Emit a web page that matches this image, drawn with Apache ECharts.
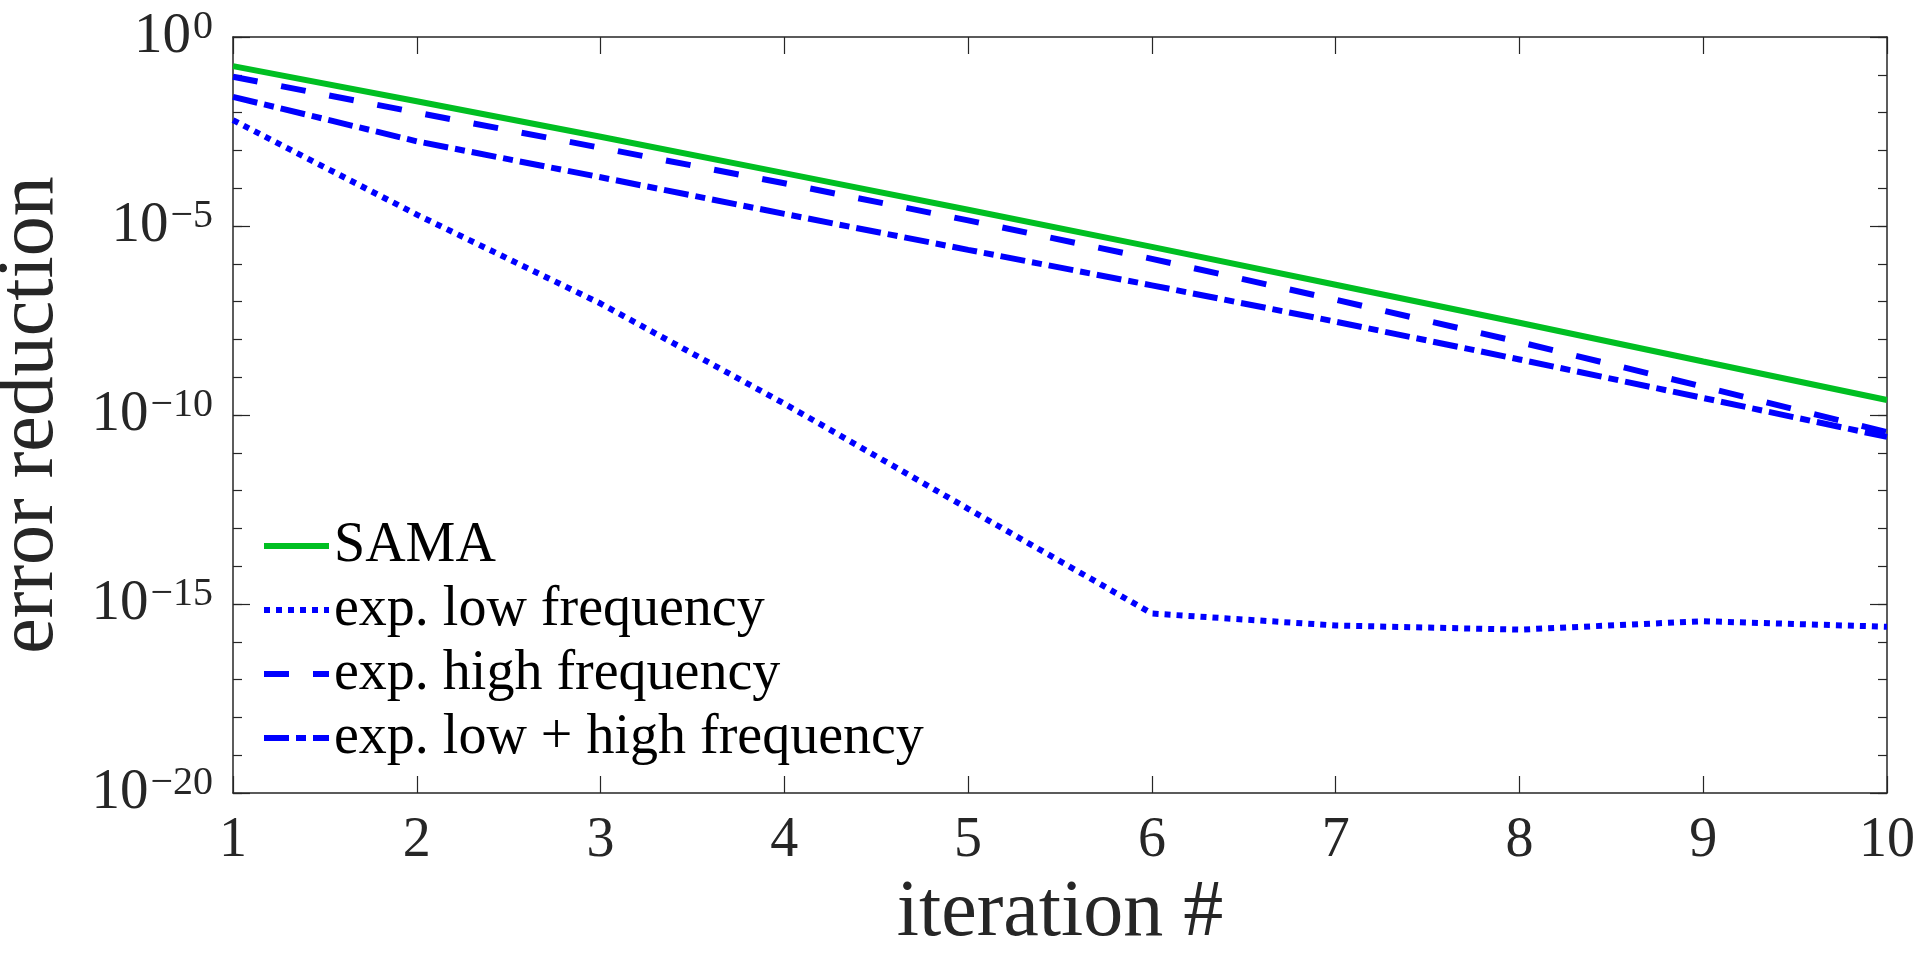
<!DOCTYPE html>
<html>
<head>
<meta charset="utf-8">
<script src="https://cdn.jsdelivr.net/npm/echarts@6/dist/echarts.min.js"></script>
<style>
  html, body { margin: 0; padding: 0; background: #fff; }
  #chart { width: 1919px; height: 959px; }
</style>
</head>
<body>
<div id="chart"></div>
<script>
// iterations 1..10
const iterations = [1, 2, 3, 4, 5, 6, 7, 8, 9, 10]
const sama = [1.7e-1, 2.0e-2, 2.3e-3, 2.5e-4, 2.7e-5, 2.8e-6, 2.8e-7, 2.75e-8, 2.6e-9, 2.5e-10]
const lowFreq = [6.3e-3, 2.0e-5, 8.9e-8, 2.0e-10, 3.3e-13, 5.6e-16, 2.7e-16, 2.1e-16, 3.5e-16, 2.5e-16]
const highFreq = [8.9e-2, 1.0e-2, 1.17e-3, 1.35e-4, 1.41e-5, 1.35e-6, 1.12e-7, 8.5e-9, 5.6e-10, 3.5e-11]
const lowHighFreq = [2.6e-2, 1.74e-3, 1.95e-4, 2.09e-5, 2.34e-6, 2.69e-7, 2.95e-8, 2.95e-9, 2.82e-10, 2.63e-11]
const seriesNames = ['SAMA', 'exp. low frequency', 'exp. high frequency', 'exp. low + high frequency']

const FONT = '"Liberation Serif", "DejaVu Serif", serif'
const INK = '#262626'

const pairs = (ys) => iterations.map((x, i) => [x, ys[i]])

function expLabel(v) {
  const e = Math.round(Math.log10(v))
  return '{b|10}{s|' + (e < 0 ? '\u2212' + (-e) : e) + '}'
}

const chart = echarts.init(document.getElementById('chart'))

const yBase = {
  type: 'log',
  logBase: 10,
  min: 1e-20,
  max: 1,
  splitLine: { show: false },
}

chart.setOption({
  animation: false,
  backgroundColor: '#fff',
  grid: { left: 233, right: 32, top: 37, bottom: 166, containLabel: false, outerBoundsMode: 'none' },
  xAxis: [
    {
      type: 'value',
      min: 1,
      max: 10,
      interval: 1,
      position: 'bottom',
      name: 'iteration #',
      nameLocation: 'middle',
      nameGap: 72,
      nameTextStyle: { fontFamily: FONT, fontSize: 80, color: INK },
      axisLine: { show: true, onZero: false, lineStyle: { color: INK, width: 1.5 } },
      axisTick: { inside: true, length: 17, lineStyle: { color: INK, width: 1.2 } },
      axisLabel: { margin: 20, fontFamily: FONT, fontSize: 56, color: INK },
      splitLine: { show: false },
    },
    {
      type: 'value',
      min: 1,
      max: 10,
      interval: 1,
      position: 'top',
      axisLine: { show: true, onZero: false, lineStyle: { color: INK, width: 1.5 } },
      axisTick: { inside: true, length: 17, lineStyle: { color: INK, width: 1.2 } },
      axisLabel: { show: false },
      splitLine: { show: false },
    },
  ],
  yAxis: [
    Object.assign({}, yBase, {
      position: 'left',
      interval: 5,
      name: 'error reduction',
      nameLocation: 'middle',
      nameGap: 162,
      nameTextStyle: { fontFamily: FONT, fontSize: 80, color: INK },
      axisLine: { show: true, onZero: false, lineStyle: { color: INK, width: 1.5 } },
      axisTick: { inside: true, length: 17, lineStyle: { color: INK, width: 1.2 } },
      axisLabel: {
        margin: 20,
        formatter: expLabel,
        rich: {
          b: { fontFamily: FONT, fontSize: 57, color: INK, lineHeight: 60 },
          s: { fontFamily: FONT, fontSize: 40, color: INK, lineHeight: 38, verticalAlign: 'top', padding: [0, 0, 0, 2] },
        },
      },
    }),
    Object.assign({}, yBase, {
      position: 'left',
      interval: 1,
      axisLine: { show: false },
      axisTick: { inside: true, length: 9, lineStyle: { color: INK, width: 1.2 } },
      axisLabel: { show: false },
    }),
    Object.assign({}, yBase, {
      position: 'right',
      interval: 5,
      axisLine: { show: true, onZero: false, lineStyle: { color: INK, width: 1.5 } },
      axisTick: { inside: true, length: 17, lineStyle: { color: INK, width: 1.2 } },
      axisLabel: { show: false },
    }),
    Object.assign({}, yBase, {
      position: 'right',
      interval: 1,
      axisLine: { show: false },
      axisTick: { inside: true, length: 9, lineStyle: { color: INK, width: 1.2 } },
      axisLabel: { show: false },
    }),
  ],
  legend: {
    left: 256,
    top: 513,
    padding: 5,
    orient: 'vertical',
    itemWidth: 65,
    itemHeight: 14,
    itemGap: 8,
    itemStyle: { opacity: 0 },
    lineStyle: { width: 6 },
    textStyle: { fontFamily: FONT, fontSize: 56, color: '#000', lineHeight: 56 },
    data: seriesNames,
  },
  series: [
    {
      name: seriesNames[0],
      type: 'line',
      data: pairs(sama),
      showSymbol: false,
      symbol: 'none',
      lineStyle: { color: '#00bf22', width: 6 },
      itemStyle: { color: '#00bf22' },
    },
    {
      name: seriesNames[1],
      type: 'line',
      data: pairs(lowFreq),
      showSymbol: false,
      symbol: 'none',
      lineStyle: { color: '#0000ff', width: 6, type: [6, 6], cap: 'butt' },
      itemStyle: { color: '#0000ff' },
    },
    {
      name: seriesNames[2],
      type: 'line',
      data: pairs(highFreq),
      showSymbol: false,
      symbol: 'none',
      lineStyle: { color: '#0000ff', width: 6, type: [25, 24], cap: 'butt' },
      itemStyle: { color: '#0000ff' },
    },
    {
      name: seriesNames[3],
      type: 'line',
      data: pairs(lowHighFreq),
      showSymbol: false,
      symbol: 'none',
      lineStyle: { color: '#0000ff', width: 6, type: [25, 7, 10, 7], cap: 'butt' },
      itemStyle: { color: '#0000ff' },
    },
  ],
})
</script>
</body>
</html>
